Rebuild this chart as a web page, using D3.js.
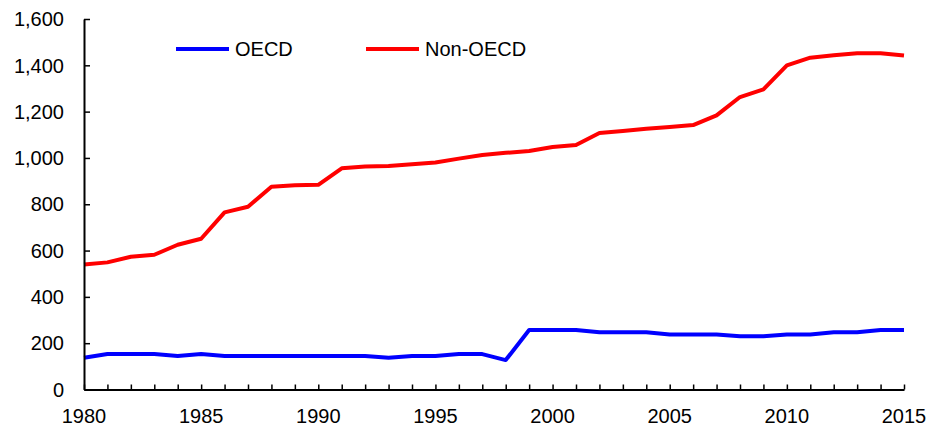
<!DOCTYPE html>
<html>
<head>
<meta charset="utf-8">
<script src="https://cdn.jsdelivr.net/npm/d3@7"></script>
<style>
  body { margin: 0; background: #fff; }
  svg { display: block; font-family: "Liberation Sans", Arial, sans-serif; }
</style>
</head>
<body>
<svg id="chart" width="932" height="430"></svg>
<script>
const years = d3.range(1980, 2016);
const oecd = [137, 153, 153, 153, 145, 153, 145, 145, 145, 145,
              145, 145, 145, 137, 145, 145, 153, 153, 127, 257,
              257, 257, 247, 247, 247, 238, 238, 238, 230, 230,
              238, 238, 247, 247, 257, 257];
const nonOecd = [540, 549, 573, 582, 625, 651, 765, 789, 876, 882,
                 884, 955, 963, 965, 973, 980, 997, 1013, 1022, 1030,
                 1047, 1056, 1108, 1116, 1126, 1134, 1142, 1184, 1263, 1296,
                 1400, 1433, 1443, 1452, 1452, 1442];
const yTicks = [0, 200, 400, 600, 800, 1000, 1200, 1400, 1600];
const xTicks = [1980, 1985, 1990, 1995, 2000, 2005, 2010, 2015];

const series = [
  { name: 'OECD', values: oecd, color: '#0000ff' },
  { name: 'Non-OECD', values: nonOecd, color: '#ff0000' }
];

const svg = d3.select('#chart');
const MARGIN = { left: 84, right: 28, top: 19, bottom: 40.5 };
const W = 932, H = 430;

const x = d3.scaleLinear().domain([1980, 2015]).range([MARGIN.left, W - MARGIN.right]);
const y = d3.scaleLinear().domain([0, 1600]).range([H - MARGIN.bottom, MARGIN.top]);

// Lines
const line = d3.line().x((d, i) => x(years[i])).y(d => y(d));
series.forEach(s => {
  svg.append('path')
    .datum(s.values)
    .attr('d', line)
    .attr('fill', 'none')
    .attr('stroke', s.color)
    .attr('stroke-width', 4)
    .attr('stroke-linejoin', 'round');
});

// Y axis, ticks inside
const yAxis = svg.append('g')
  .attr('transform', `translate(${MARGIN.left},0)`)
  .call(d3.axisRight(y).tickValues(yTicks).tickSize(6).tickSizeOuter(0).tickFormat(''));
yAxis.select('.domain').attr('stroke', '#000').attr('stroke-width', 2);
yAxis.selectAll('.tick line').attr('stroke', '#000').attr('stroke-width', 1.5);

svg.append('g').selectAll('text')
  .data(yTicks)
  .enter()
  .append('text')
  .attr('x', 64)
  .attr('y', d => y(d))
  .attr('dy', '0.36em')
  .attr('text-anchor', 'end')
  .style('font-size', '20px')
  .style('fill', '#000')
  .text(d => d3.format(',')(d));

// X axis, ticks inside (every year)
const xAxis = svg.append('g')
  .attr('transform', `translate(0,${y(0)})`)
  .call(d3.axisTop(x).tickValues(years).tickSize(5).tickSizeOuter(0).tickFormat(''));
xAxis.select('.domain').attr('stroke', '#000').attr('stroke-width', 2);
xAxis.selectAll('.tick line').attr('stroke', '#000').attr('stroke-width', 1.5);

svg.append('g').selectAll('text')
  .data(xTicks)
  .enter()
  .append('text')
  .attr('x', d => x(d))
  .attr('y', 423)
  .attr('text-anchor', 'middle')
  .style('font-size', '20px')
  .style('fill', '#000')
  .text(d => d);

// Legend
const legendPos = [176, 366];
series.forEach((s, i) => {
  const lx = legendPos[i];
  svg.append('line')
    .attr('x1', lx).attr('x2', lx + 53)
    .attr('y1', 49).attr('y2', 49)
    .attr('stroke', s.color)
    .attr('stroke-width', 4);
  svg.append('text')
    .attr('x', lx + 59)
    .attr('y', 49)
    .attr('dy', '0.36em')
    .style('font-size', '20px')
    .style('fill', '#000')
    .text(s.name);
});
</script>
</body>
</html>
